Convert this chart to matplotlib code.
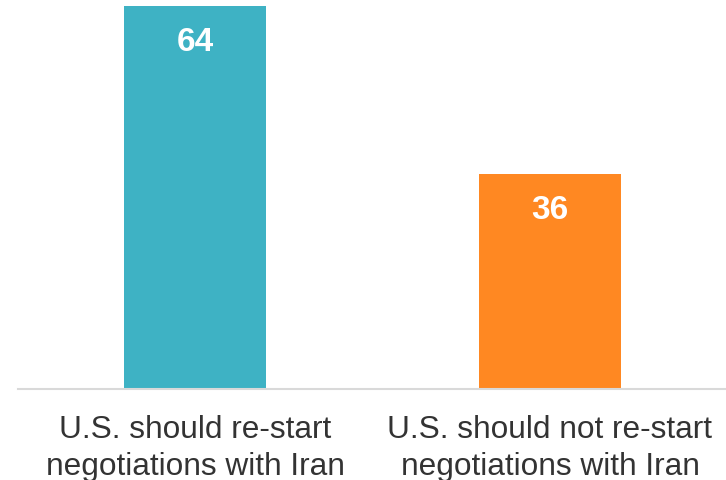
import matplotlib
matplotlib.use("Agg")
import matplotlib.pyplot as plt

categories = ["U.S. should re-start\nnegotiations with Iran",
              "U.S. should not re-start\nnegotiations with Iran"]
values = [64, 36]
colors = ["#3EB2C4", "#FF8822"]

plt.rcParams['font.family'] = ['Liberation Sans', 'DejaVu Sans']

fig = plt.figure(figsize=(7.26, 4.80), dpi=100)
ax = fig.add_axes([18/726, 1 - 389/480, 1 - 18/726, 389/480])

x = list(range(len(values)))
ax.bar(x, values, width=0.4, color=colors, zorder=2)
for xi, v in zip(x, values):
    ax.annotate(f"{v}", (xi, v), xytext=(0, -26.5), textcoords='offset points',
                ha='center', va='center', color='white', fontsize=24,
                fontweight='bold')

ax.set_xlim((18 - 195) / 355, (726 - 195) / 355)
ax.set_ylim(0, 65)
ax.set_yticks([])
ax.set_xticks(x)
ax.set_xticklabels(categories, fontsize=22.8, color='#333333', linespacing=1.3)
ax.tick_params(axis='x', length=0, pad=19)
for s in ['top', 'right', 'left']:
    ax.spines[s].set_visible(False)
ax.spines['bottom'].set_color('#d9d9d9')
ax.spines['bottom'].set_linewidth(1.5)

fig.savefig("out.png", dpi=100)
